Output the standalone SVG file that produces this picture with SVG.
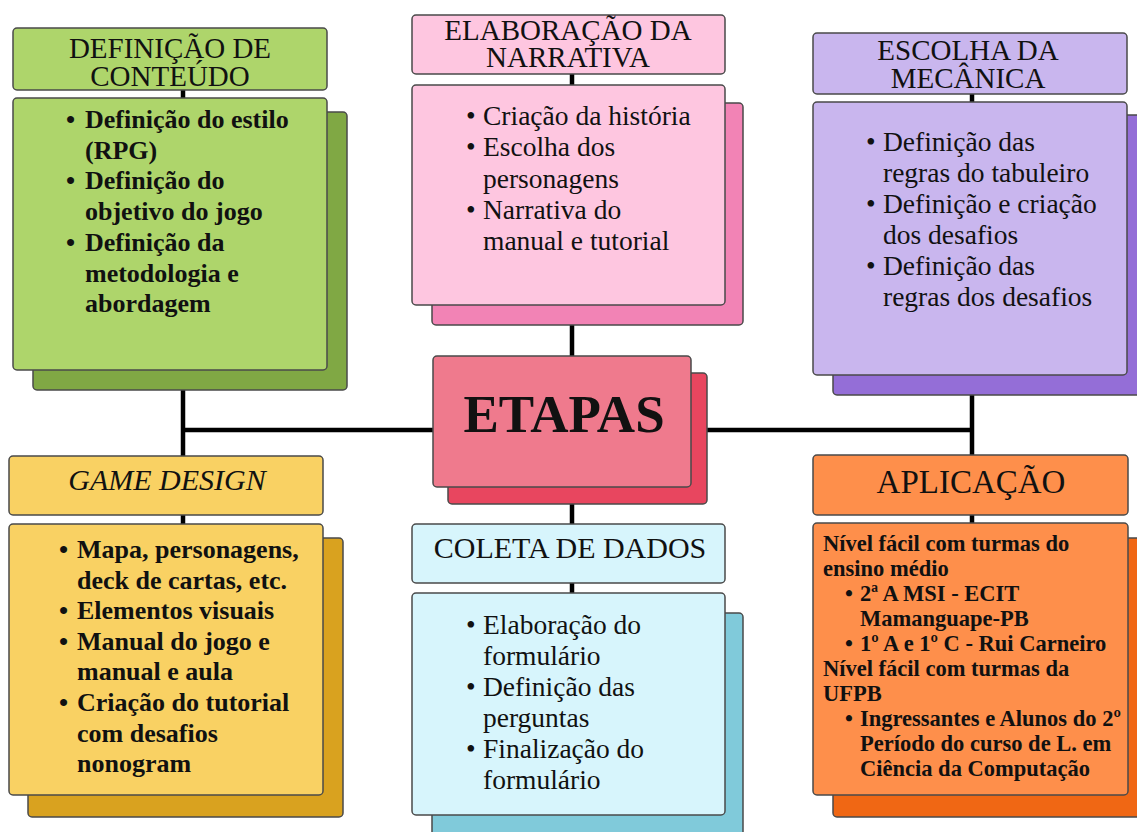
<svg xmlns="http://www.w3.org/2000/svg" width="1137" height="832" viewBox="0 0 1137 832">
<style>
.bx{stroke:#4a4a4a;stroke-width:1.5}
.ln{stroke:#000;stroke-width:4.5;fill:none}
text{font-family:"Liberation Serif","Times New Roman",serif;fill:#111}
.t{font-size:30px;text-anchor:middle}
.t2{font-size:29px;text-anchor:middle}
.br{font-size:27.5px}
.bb{font-size:26px;font-weight:bold}
.bo{font-size:22.5px;font-weight:bold}
</style>
<rect width="1137" height="832" fill="#fff"/>
<g id="connectors">
<path class="ln" d="M183 60 V780 M572 40 V800 M972 60 V780 M183 430 H972"/>
</g>
<g id="definicao">
<rect class="bx" x="33" y="112" width="314" height="278" rx="4" fill="#80A844"/>
<rect class="bx" x="13" y="28" width="314" height="62" rx="4" fill="#AED56B"/>
<rect class="bx" x="13" y="98" width="314" height="272" rx="4" fill="#AED56B"/>
<text class="t2"><tspan x="170" y="58">DEFINIÇÃO DE</tspan><tspan x="170" y="86">CONTEÚDO</tspan></text>
<g class="bb">
<text x="66" y="128">•</text><text x="85" y="128">Definição do estilo</text>
<text x="85" y="158.7">(RPG)</text>
<text x="66" y="189.4">•</text><text x="85" y="189.4">Definição do</text>
<text x="85" y="220.1">objetivo do jogo</text>
<text x="66" y="250.8">•</text><text x="85" y="250.8">Definição da</text>
<text x="85" y="281.5">metodologia e</text>
<text x="85" y="312.2">abordagem</text>
</g>
</g>
<g id="narrativa">
<rect class="bx" x="432" y="103" width="311" height="222" rx="4" fill="#F283B5"/>
<rect class="bx" x="412" y="15" width="313" height="59" rx="4" fill="#FEC6E0"/>
<rect class="bx" x="412" y="85" width="313" height="220" rx="4" fill="#FEC6E0"/>
<text class="t2"><tspan x="568" y="40">ELABORAÇÃO DA</tspan><tspan x="568" y="67">NARRATIVA</tspan></text>
<g class="br">
<text x="466" y="125">•</text><text x="483" y="125">Criação da história</text>
<text x="466" y="156.3">•</text><text x="483" y="156.3">Escolha dos</text>
<text x="483" y="187.6">personagens</text>
<text x="466" y="218.9">•</text><text x="483" y="218.9">Narrativa do</text>
<text x="483" y="250.2">manual e tutorial</text>
</g>
</g>
<g id="mecanica">
<rect class="bx" x="833" y="115" width="320" height="280" rx="4" fill="#946ED7"/>
<rect class="bx" x="813" y="33" width="314" height="61" rx="4" fill="#C9B6EE"/>
<rect class="bx" x="813" y="102" width="314" height="273" rx="4" fill="#C9B6EE"/>
<text class="t2"><tspan x="968" y="60">ESCOLHA DA</tspan><tspan x="968" y="88">MECÂNICA</tspan></text>
<g class="br">
<text x="866" y="151">•</text><text x="883" y="151">Definição das</text>
<text x="883" y="182">regras do tabuleiro</text>
<text x="866" y="213">•</text><text x="883" y="213">Definição e criação</text>
<text x="883" y="244">dos desafios</text>
<text x="866" y="275">•</text><text x="883" y="275">Definição das</text>
<text x="883" y="306">regras dos desafios</text>
</g>
</g>
<g id="etapas">
<rect class="bx" x="448" y="373" width="259" height="131" rx="4" fill="#E8465F"/>
<rect class="bx" x="433" y="356" width="258" height="131" rx="4" fill="#EF7A8D"/>
<text x="564" y="432" style="font-size:53px;font-weight:bold;text-anchor:middle">ETAPAS</text>
</g>
<g id="gamedesign">
<rect class="bx" x="28" y="538" width="315" height="279" rx="4" fill="#D9A21F"/>
<rect class="bx" x="9" y="456" width="314" height="59" rx="4" fill="#F9D163"/>
<rect class="bx" x="9" y="524" width="314" height="271" rx="4" fill="#F9D163"/>
<text class="t" x="167" y="490" style="font-style:italic">GAME DESIGN</text>
<g class="bb">
<text x="59" y="558">•</text><text x="77" y="558">Mapa, personagens,</text>
<text x="77" y="588.6">deck de cartas, etc.</text>
<text x="59" y="619.2">•</text><text x="77" y="619.2">Elementos visuais</text>
<text x="59" y="649.8">•</text><text x="77" y="649.8">Manual do jogo e</text>
<text x="77" y="680.4">manual e aula</text>
<text x="59" y="711">•</text><text x="77" y="711">Criação do tutorial</text>
<text x="77" y="741.6">com desafios</text>
<text x="77" y="772.2">nonogram</text>
</g>
</g>
<g id="coleta">
<rect class="bx" x="432" y="613" width="311" height="240" rx="4" fill="#80CADA"/>
<rect class="bx" x="412" y="524" width="313" height="59" rx="4" fill="#D7F5FC"/>
<rect class="bx" x="412" y="593" width="313" height="222" rx="4" fill="#D7F5FC"/>
<text class="t" x="570" y="558">COLETA DE DADOS</text>
<g class="br">
<text x="466" y="634">•</text><text x="483" y="634">Elaboração do</text>
<text x="483" y="665">formulário</text>
<text x="466" y="696">•</text><text x="483" y="696">Definição das</text>
<text x="483" y="727">perguntas</text>
<text x="466" y="758">•</text><text x="483" y="758">Finalização do</text>
<text x="483" y="789">formulário</text>
</g>
</g>
<g id="aplicacao">
<rect class="bx" x="833" y="538" width="320" height="279" rx="4" fill="#F06714"/>
<rect class="bx" x="813" y="455" width="315" height="60" rx="4" fill="#FE8F4B"/>
<rect class="bx" x="813" y="523" width="315" height="272" rx="4" fill="#FE8F4B"/>
<text class="t" x="971" y="493" style="font-size:33px">APLICAÇÃO</text>
<g class="bo">
<text x="823" y="551">Nível fácil com turmas do</text>
<text x="823" y="576">ensino médio</text>
<text x="845" y="601">•</text><text x="860" y="601">2ª A MSI - ECIT</text>
<text x="860" y="626">Mamanguape-PB</text>
<text x="845" y="651">•</text><text x="860" y="651">1º A e 1º C - Rui Carneiro</text>
<text x="823" y="676">Nível fácil com turmas da</text>
<text x="823" y="701">UFPB</text>
<text x="845" y="726">•</text><text x="860" y="726">Ingressantes e Alunos do 2º</text>
<text x="860" y="751">Período do curso de L. em</text>
<text x="860" y="776">Ciência da Computação</text>
</g>
</g>
</svg>
